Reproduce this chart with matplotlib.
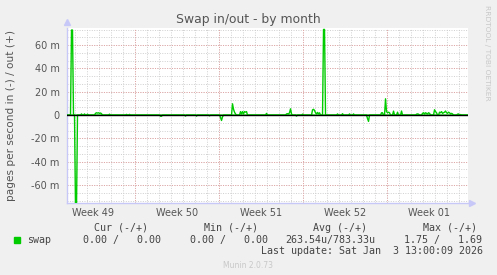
import numpy as np
import matplotlib
matplotlib.use("Agg")
import matplotlib.pyplot as plt

# samples every 2 hours, index 0 = left edge of graph
n_samples = 402
out_idx = [5, 6, 15, 18, 21, 29, 30, 31, 32, 33, 34, 35, 43, 60, 63,
           166, 167, 168, 169, 174, 175, 176, 177, 178, 179, 180, 200,
           220, 221, 222, 223, 224, 225, 236, 246, 247, 248, 249, 250, 251, 252, 253,
           257, 258, 271, 276, 283, 287, 315, 316, 319, 320, 321, 322, 323,
           327, 331, 335, 350, 351, 352, 356, 357, 358, 359, 360, 361, 362, 363,
           368, 369, 370, 373, 374, 375, 376, 377, 378, 379, 380, 381, 382, 383, 384,
           385, 386, 391, 392, 394]
out_val = [73, 73, 1.0, 1.0, 0.8, 1.5, 2.0, 1.7, 2.0, 1.5, 1.8, 1.2, 0.8, 0.6, 0.6,
           9.7, 5.0, 2.5, 1.0, 3.0, 1.0, 3.0, 1.0, 3.0, 2.5, 3.0, 1.5,
           1.0, 1.2, 1.0, 2.0, 5.4, 1.0, 0.8, 4.5, 5.0, 4.0, 2.0, 1.0, 2.3, 1.0, 2.0,
           73.5, 73.5, 1.0, 1.2, 1.0, 1.0, 2.0, 2.0, 14.0, 3.0, 2.0, 2.5, 2.0,
           3.4, 2.5, 3.5, 0.8, 1.0, 0.8, 1.5, 2.0, 1.0, 2.0, 1.5, 1.0, 2.0, 1.5,
           4.6, 3.0, 2.0, 2.5, 2.0, 3.0, 1.5, 2.0, 2.5, 3.5, 2.0, 1.5, 2.5, 2.0, 1.0,
           1.5, 1.0, 0.8, 1.0, 0.5]
in_idx = [9, 10, 94, 95, 119, 130, 143, 154, 155, 156, 230, 301, 302]
in_val = [80, 80, 1.0, 1.0, 0.8, 0.8, 0.6, 2.0, 4.6, 1.5, 0.8, 3.0, 5.4]

week_labels = ["Week 49", "Week 50", "Week 51", "Week 52", "Week 01"]
yticks = [-60, -40, -20, 0, 20, 40, 60]

# legend table
headers = ["Cur (-/+)", "Min (-/+)", "Avg (-/+)", "Max (-/+)"]
values = ["0.00 /   0.00", "0.00 /   0.00", "263.54u/783.33u", "1.75 /   1.69"]

swap_out = np.zeros(n_samples)
swap_out[out_idx] = out_val
swap_in = np.zeros(n_samples)
swap_in[in_idx] = in_val
days = np.arange(n_samples) / 12.0

W, H = 497, 275
fig = plt.figure(figsize=(W / 100, H / 100), dpi=100, facecolor="#F0F0F0")
x0, x1, ytop, ybot = 66.5, 468.3, 27.7, 202.5
ax = fig.add_axes([x0 / W, 1 - ybot / H, (x1 - x0) / W, (ybot - ytop) / H])
ax.set_facecolor("white")

xmax = 33.48
ax.set_xlim(0, xmax)
ax.set_ylim(-75, 75)

first_major = 5.73
minor_x = np.arange(first_major % 1, xmax, 1.0)
major_x = np.arange(first_major, xmax, 7.0)
label_x = np.arange(first_major - 3.5, xmax, 7.0)
minor_y = np.arange(-73.33, 75, 20 / 3)

for x in minor_x:
    ax.axvline(x, color="#CFCFCF", lw=0.7, ls=(0, (1, 1.5)), zorder=1)
for y in minor_y:
    ax.axhline(y, color="#CFCFCF", lw=0.7, ls=(0, (1, 1.5)), zorder=1)
for x in major_x:
    ax.axvline(x, color="#E4A3A3", lw=0.7, ls=(0, (1, 1.5)), zorder=1.5)
for y in yticks:
    if y != 0:
        ax.axhline(y, color="#E4A3A3", lw=0.7, ls=(0, (1, 1.5)), zorder=1.5)

ax.plot(days, swap_out, color="#00CC00", lw=1.0, zorder=3)
ax.plot(days, -swap_in, color="#00CC00", lw=1.0, zorder=3)
ax.axhline(0, color="black", lw=1.0, zorder=4)

for side in ["top", "right"]:
    ax.spines[side].set_visible(False)
for side in ["left", "bottom"]:
    ax.spines[side].set_color("#C8C8F8")
    ax.spines[side].set_linewidth(1.0)
ax.plot([0], [1.035], marker="^", ms=5, color="#C8C8F8", transform=ax.transAxes, clip_on=False)
ax.plot([1.008], [0], marker=">", ms=5, color="#C8C8F8", transform=ax.transAxes, clip_on=False)

ax.set_yticks(yticks)
ax.set_yticklabels([f"{v} m" if v != 0 else "0" for v in yticks])
ax.set_xticks(label_x)
ax.set_xticklabels(week_labels)
ax.tick_params(axis="both", length=0, labelsize=7, colors="#555555", pad=5)
ax.tick_params(axis="x", pad=4)

ax.set_ylabel("pages per second in (-) / out (+)", fontsize=7.6, color="#555555")
ax.yaxis.set_label_coords((16 - x0) / (x1 - x0), 0.5)
fig.text(248.4 / W, 1 - 19 / H, "Swap in/out - by month", ha="center", va="center",
         fontsize=8.9, color="#555555")
fig.text(487 / W, 1 - 5 / H, "RRDTOOL / TOBI OETIKER", ha="center", va="top",
         rotation=270, fontsize=5.4, color="#C8C8C8")

mono = dict(family="DejaVu Sans Mono", fontsize=7.2, color="#444444", va="center")
fig.patches.append(plt.Rectangle((14 / W, 1 - 242.5 / H), 6 / W, 6 / H,
                                 transform=fig.transFigure, color="#00CC00"))
fig.text(26.7 / W, 1 - 240 / H, "swap", **mono)
for hx, h in zip([94, 204, 312.7, 422.7], headers):
    fig.text(hx / W, 1 - 227.7 / H, h, **mono)
for vx, v in zip([83, 190, 285, 404.3], values):
    fig.text(vx / W, 1 - 240 / H, v, **mono)
fig.text(261 / W, 1 - 251 / H, "Last update: Sat Jan  3 13:00:09 2026", **mono)
fig.text(248 / W, 1 - 265 / H, "Munin 2.0.73", ha="center", va="center",
         fontsize=5.5, color="#C8C8C8")

fig.savefig("out.png", dpi=100, facecolor=fig.get_facecolor())
